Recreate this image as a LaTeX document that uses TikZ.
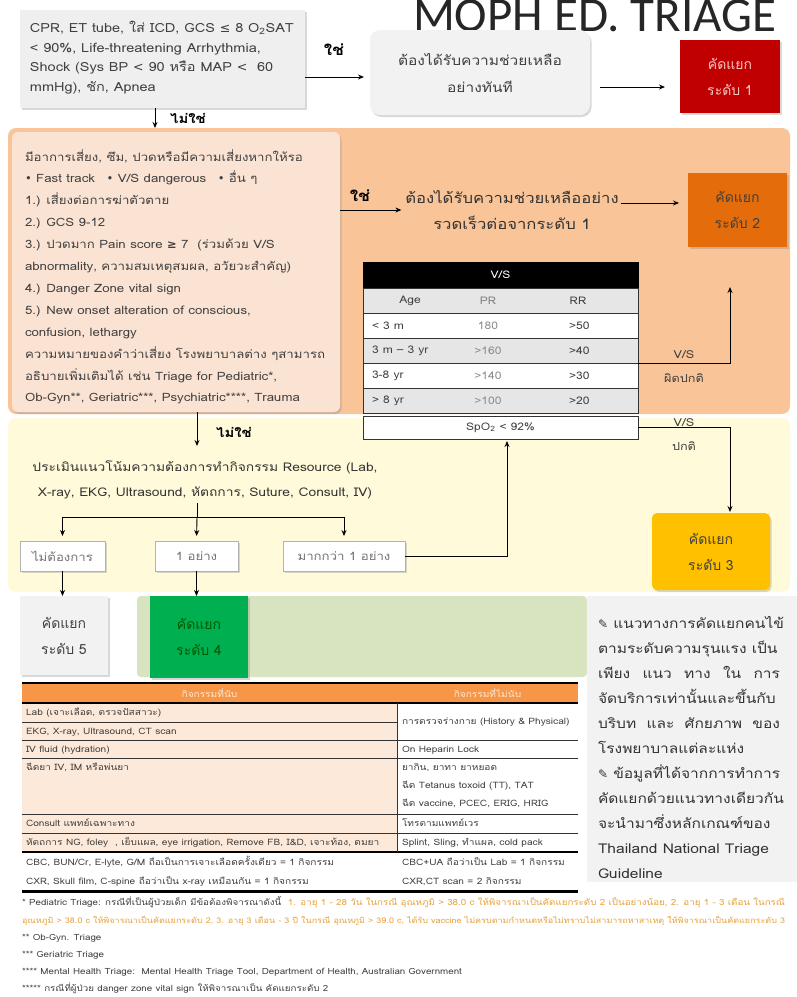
\documentclass[tikz,border=0pt]{standalone}
\usepackage{graphicx}
\usepackage{fontspec}
\setmainfont{Loma}[Script=Thai,FakeStretch=1.15]
\newfontfamily\plainthai{Loma}[Script=Thai]
\newfontfamily\dejavu{DejaVu Sans}
\newfontfamily\titlefont{Carlito}
\usetikzlibrary{arrows.meta,shadows}
\definecolor{boxgray}{HTML}{EFEFEF}
\definecolor{redA}{HTML}{C00000}
\definecolor{pinkA}{HTML}{F6C6C0}
\definecolor{bandB}{HTML}{F8C498}
\definecolor{innerB}{HTML}{FBE3D3}
\definecolor{lvlB}{HTML}{E46C0A}
\definecolor{bandC}{HTML}{FFFAD9}
\definecolor{lvlC}{HTML}{FFC000}
\definecolor{bandD}{HTML}{D8E4BF}
\definecolor{lvlD}{HTML}{00B050}
\definecolor{panelE}{HTML}{F2F2F2}
\definecolor{thead}{HTML}{F79646}
\definecolor{tleft}{HTML}{FDE9D9}
\definecolor{txt}{HTML}{404040}
\definecolor{foot}{HTML}{E6A23C}
\definecolor{vsgray}{HTML}{E6E6E6}
\newcommand\fs[2]{\fontsize{#1}{#2}\selectfont}
\begin{document}
\begin{tikzpicture}[x=1pt,y=-1pt,
  arr/.style={-{Stealth[length=6pt,width=5pt]},line width=0.9pt},
  plain/.style={line width=0.9pt},
  shd/.style={drop shadow={opacity=0.3,shadow xshift=1.5pt,shadow yshift=-2pt}},
  blk/.style={inner sep=0pt,outer sep=0pt},
  lvl/.style={blk,align=center,font=\plainthai\fs{14}{26}},
  ln/.style={blk,anchor=base west},
  tl/.style={ln,font=\fs{8.8}{9},text=txt},
  vst/.style={blk,font=\fs{10.5}{10},text=txt},
  lab/.style={blk,font=\bfseries\fs{15}{15}},
  vsrow/.style={blk,draw=black!80,line width=1pt,minimum width=275pt,minimum height=25pt},
  tline/.style={line width=1pt,black!80}]
\fill[white] (0,0) rectangle (797,997);
\useasboundingbox (0,0) rectangle (797,997);

% title
\node[ln,font=\titlefont\fs{49}{49},text=black!85] (title) at (413,31) {MOPH ED. TRIAGE};

% ---------- bands
\node[blk,fill=bandB,rounded corners=8pt,minimum width=782pt,minimum height=286pt] (band2) at (399,271) {};
\node[blk,fill=bandC,rounded corners=8pt,minimum width=782pt,minimum height=174pt] (band3) at (399,505) {};
\node[blk,fill=bandD,rounded corners=4pt,minimum width=450pt,minimum height=81pt] (band4) at (362,636.5) {};
\node[blk,fill=panelE,minimum width=210pt,minimum height=286pt] (panel) at (692,739) {};

% ---------- level 1 row
\node[blk,fill=boxgray,shd,minimum width=285pt,minimum height=98pt] (b1) at (162.5,59) {};
\node[ln,font=\fs{12.6}{15},text=txt] (a1) at (30,32.5) {CPR, ET tube, ใส่ ICD, GCS {\dejavu ≤} 8 O\textsubscript{2}SAT};
\node[ln,font=\fs{12.6}{15},text=txt] (a2) at (30,52) {< 90\%, Life-threatening Arrhythmia,};
\node[ln,font=\fs{12.6}{15},text=txt] (a3) at (30,71.5) {Shock (Sys BP {\dejavu <} 90 หรือ MAP {\dejavu <}\ \ 60};
\node[ln,font=\fs{12.6}{15},text=txt] (a4) at (30,91) {mmHg), ชัก, Apnea};
\node[blk,fill=boxgray!80,shd,rounded corners=10pt,minimum width=220pt,minimum height=85pt,align=center,font=\fs{13.5}{27},text=txt] (b2) at (480,72.5) {ต้องได้รับความช่วยเหลือ\\อย่างทันที};
\node[lvl,fill=redA,shd,minimum width=100pt,minimum height=73pt,text=pinkA] (L1) at (730,76.5) {คัดแยก\\ระดับ 1};
\node[lab] (yes1) at (334,50) {ใช่};
\draw[arr,shorten >=6pt] (b1.east |- 0,77) -- (b2.west |- 0,77);
\draw[arr,shorten <=10pt,shorten >=15pt] (b2.east |- 0,87) -- (L1.west |- 0,87);

% ---------- level 2
\node[blk,fill=innerB,shd,rounded corners=6pt,minimum width=328pt,minimum height=280pt] (inner) at (176,272) {};
\draw[arr] (b1.south -| 155,0) -- (band2.north -| 155,0);
\node[blk,font=\bfseries\fs{13}{13}] (no1) at (188,118) {ไม่ใช่};
\foreach \t [count=\i] in {{มีอาการเสี่ยง, ซึม, ปวดหรือมีความเสี่ยงหากให้รอ},{{\dejavu•} Fast track\quad{\dejavu•} V/S dangerous\quad{\dejavu•} อื่น ๆ},{1.) เสี่ยงต่อการฆ่าตัวตาย},{2.) GCS 9-12},{3.) ปวดมาก Pain score {\dejavu\bfseries ≥} 7\ \ (ร่วมด้วย V/S},{abnormality, ความสมเหตุสมผล, อวัยวะสำคัญ)},{4.) Danger Zone vital sign},{5.) New onset alteration of conscious,},{confusion, lethargy},{ความหมายของคำว่าเสี่ยง โรงพยาบาลต่าง ๆสามารถ},{อธิบายเพิ่มเติมได้ เช่น Triage for Pediatric*,},{Ob-Gyn**, Geriatric***, Psychiatric****, Trauma}}
  \node[ln,font=\fs{11.5}{14},text=txt] (o\i) at (25,{161+21.9*(\i-1)}) {\t};
\node[lab] (yes2) at (360,196) {ใช่};
\node[blk,align=center,font=\fs{14.5}{26},text=black!80] (t2) at (512,210) {ต้องได้รับความช่วยเหลืออย่าง\\รวดเร็วต่อจากระดับ 1};
\draw[arr,shorten >=4pt] (inner.east |- 0,210) -- (t2.west |- 0,210);
\node[lvl,fill=lvlB,shd,minimum width=99pt,minimum height=74pt,text=black!75] (L2) at (737.5,210) {คัดแยก\\ระดับ 2};
\draw[arr,shorten <=2pt,shorten >=9pt] (t2.east |- 0,203) -- (L2.west |- 0,203);

% V/S table
\node[blk,fill=black,draw=black,minimum width=275pt,minimum height=26pt,text=white,font=\fs{10.5}{10}] (vsh) at (500.5,275) {V/S};
\node[vsrow,fill=vsgray] (vs0) at (500.5,300.5) {};
\node[vsrow,fill=white] (vs1) at (500.5,325.5) {};
\node[vsrow,fill=vsgray] (vs2) at (500.5,350.5) {};
\node[vsrow,fill=white] (vs3) at (500.5,375.5) {};
\node[vsrow,fill=vsgray] (vs4) at (500.5,400.5) {};
\node[vsrow,fill=white,minimum height=23pt,font=\fs{10.5}{10},text=txt] (spo) at (500.5,427.5) {SpO\textsubscript{2} < 92\%};
\node[vst] (h1) at (410,300.5) {Age};
\node[vst,text=black!50] (h2) at (488,300.5) {PR};
\node[vst] (h3) at (578,300.5) {RR};
\foreach \a/\b/\c/\y [count=\i] in {< 3 m/180/>50/325.5,3 m – 3 yr/>160/>40/350.5,3-8 yr/>140/>30/375.5,> 8 yr/>100/>20/400.5}{
  \node[vst,anchor=west] (va\i) at (372,\y) {\a};
  \node[vst,text=black!45] (vb\i) at (488,\y) {\b};
  \node[vst,anchor=west] (vc\i) at (569,\y) {\c};
}
\coordinate (up2) at (730,287);
\draw[arr] (vs2.south east) -| (up2);
\node[blk,font=\fs{11}{12},text=txt] (ab1) at (684,355) {V/S};
\node[blk,font=\fs{11}{12},text=txt] (ab2) at (684,378) {ผิดปกติ};

% ---------- level 3
\node[blk,font=\fs{11}{12},text=txt] (nm1) at (684,423) {V/S};
\node[blk,font=\fs{11}{12},text=txt] (nm2) at (684,446) {ปกติ};
\node[lvl,fill=lvlC,shd,rounded corners=5pt,minimum width=118pt,minimum height=77pt,text=black!75] (L3) at (711,551.5) {คัดแยก\\ระดับ 3};
\coordinate (dn3) at (730,512);
\draw[arr] (spo.east) -| (dn3);

\coordinate (split) at (197,517);
\coordinate (noend) at (197,446);
\draw[arr] (inner.south -| split) -- (noend);
\node[blk,font=\bfseries\fs{13}{13}] (no2) at (234,432) {ไม่ใช่};
\node[blk,align=center,font=\fs{12}{25},text=black!80] (res) at (205,480) {ประเมินแนวโน้มความต้องการทำกิจกรรม Resource (Lab,\\X-ray, EKG, Ultrasound, หัตถการ, Suture, Consult, IV)};
\node[blk,fill=white,draw=black!30,shd,minimum width=85pt,minimum height=30pt,font=\fs{11.5}{11},text=black!55] (bx0) at (62.5,556) {ไม่ต้องการ};
\node[blk,fill=white,draw=black!30,shd,minimum width=83pt,minimum height=30pt,font=\fs{11.5}{11},text=black!55] (bx1) at (196.5,556) {1 อย่าง};
\node[blk,fill=white,draw=black!30,shd,minimum width=122pt,minimum height=30pt,font=\fs{11.5}{11},text=black!55] (bx2) at (344,556) {มากกว่า 1 อย่าง};
\draw[plain] (split |- 0,503) -- (split);
\draw[arr,shorten >=5pt] (split) -| (bx0.north);
\draw[arr,shorten >=5pt] (split) -- (bx1.north);
\draw[arr,shorten >=5pt] (split) -| (bx2.north);
\coordinate (spotip) at (507,441);
\draw[arr] (bx2.east) -| (spotip);

% ---------- level 4 / 5
\node[lvl,fill=panelE,shd,minimum width=88pt,minimum height=79pt,text=txt] (L5) at (64,635.5) {คัดแยก\\ระดับ 5};
\node[lvl,fill=lvlD,shd,minimum width=98pt,minimum height=82pt,text=black!65!green] (L4) at (199,637) {คัดแยก\\ระดับ 4};
\draw[arr] (bx0.south) -- (bx0.south |- L5.north);
\draw[arr] (bx1.south) -- (bx1.south |- L4.north);

% right panel text
\node[ln,font=\fs{13.5}{14},text=black!80] (p1) at (598,628) {{\dejavu\fs{12}{12}✎} แนวทางการคัดแยกคนไข้};
\node[ln,font=\fs{13.5}{14},text=black!80] (p2) at (598,653) {ตามระดับความรุนแรง เป็น};
\node[ln,font=\fs{13.5}{14},text=black!80] (p3) at (598,678) {\makebox[182pt][s]{เพียง\hfil แนว\hfil ทาง\hfil ใน\hfil การ}};
\node[ln,font=\fs{13.5}{14},text=black!80] (p4) at (598,703) {จัดบริการเท่านั้นและขึ้นกับ};
\node[ln,font=\fs{13.5}{14},text=black!80] (p5) at (598,728) {\makebox[182pt][s]{บริบท\hfil และ\hfil ศักยภาพ\hfil ของ}};
\node[ln,font=\fs{13.5}{14},text=black!80] (p6) at (598,753) {โรงพยาบาลแต่ละแห่ง};
\node[ln,font=\fs{13.5}{14},text=black!80] (p7) at (598,778) {{\dejavu\fs{12}{12}✎} ข้อมูลที่ได้จากการทำการ};
\node[ln,font=\fs{13.5}{14},text=black!80] (p8) at (598,803) {คัดแยกด้วยแนวทางเดียวกัน};
\node[ln,font=\fs{13.5}{14},text=black!80] (p9) at (598,828) {จะนำมาซึ่งหลักเกณฑ์ของ};
\node[ln,font=\fs{13.5}{14},text=black!80] (p10) at (598,853) {Thailand National Triage};
\node[ln,font=\fs{13.5}{14},text=black!80] (p11) at (598,878) {Guideline};

% ---------- resource table
\fill[tleft] (22,703) rectangle (397,852);
\fill[thead] (22,684) rectangle (578,702);
\draw[line width=2.5pt] (22,683) -- (578,683);
\draw[line width=2.5pt] (22,703) -- (578,703);
\draw[tline] (22,722) -- (397,722);
\foreach \y in {740,758,814,833} \draw[tline] (22,\y) -- (578,\y);
\draw[line width=1.6pt] (22,852) -- (578,852);
\draw[tline] (397,703) -- (397,852);
\draw[line width=3pt] (22,891) -- (578,891);
\node[blk,font=\fs{8.8}{9},text=tleft] (th1) at (209.5,693) {กิจกรรมที่นับ};
\node[blk,font=\fs{8.8}{9},text=tleft] (th2) at (487.5,693) {กิจกรรมที่ไม่นับ};
\node[tl] (r1) at (26,715) {Lab (เจาะเลือด, ตรวจปัสสาวะ)};
\node[tl] (r2) at (26,734) {EKG, X-ray, Ultrasound, CT scan};
\node[tl] (r3) at (26,752) {IV fluid (hydration)};
\node[tl] (r4) at (26,770) {ฉีดยา IV, IM หรือพ่นยา};
\node[tl] (r5) at (26,826) {Consult แพทย์เฉพาะทาง};
\node[tl] (r6) at (26,845) {หัตถการ NG, foley\ \ , เย็บแผล, eye irrigation, Remove FB, I\&D, เจาะท้อง, ดมยา};
\node[tl] (r7) at (26,865) {CBC, BUN/Cr, E-lyte, G/M ถือเป็นการเจาะเลือดครั้งเดียว = 1 กิจกรรม};
\node[tl] (r8) at (26,884) {CXR, Skull film, C-spine ถือว่าเป็น x-ray เหมือนกัน = 1 กิจกรรม};
\node[tl] (s1) at (402,724) {การตรวจร่างกาย (History \& Physical)};
\node[tl] (s2) at (402,752) {On Heparin Lock};
\node[tl] (s3) at (402,770) {ยากิน, ยาทา ยาหยอด};
\node[tl] (s4) at (402,788) {ฉีด Tetanus toxoid (TT), TAT};
\node[tl] (s5) at (402,806) {ฉีด vaccine, PCEC, ERIG, HRIG};
\node[tl] (s6) at (402,826) {โทรตามแพทย์เวร};
\node[tl] (s7) at (402,845) {Splint, Sling, ทำแผล, cold pack};
\node[tl] (s8) at (402,865) {CBC+UA ถือว่าเป็น Lab = 1 กิจกรรม};
\node[tl] (s9) at (402,884) {CXR,CT scan = 2 กิจกรรม};

% ---------- footnotes
\node[ln,font=\fs{8}{8},text=txt] (f1) at (22,905) {\resizebox{763pt}{!}{* Pediatric Triage: กรณีที่เป็นผู้ป่วยเด็ก มีข้อต้องพิจารณาดังนี้\ \ \textcolor{foot}{1. อายุ 1 - 28 วัน ในกรณี อุณหภูมิ > 38.0 c ให้พิจารณาเป็นคัดแยกระดับ 2 เป็นอย่างน้อย, 2. อายุ 1 - 3 เดือน ในกรณี}}};
\node[ln,font=\fs{8}{8},text=foot] (f2) at (22,923) {\resizebox{763pt}{!}{อุณหภูมิ > 38.0 c ให้พิจารณาเป็นคัดแยกระดับ 2, 3. อายุ 3 เดือน - 3 ปี ในกรณี อุณหภูมิ > 39.0 c, ได้รับ vaccine ไม่ครบตามกำหนดหรือไม่ทราบไม่สามารถหาสาเหตุ ให้พิจารณาเป็นคัดแยกระดับ 3}};
\node[ln,font=\fs{8.5}{8},text=txt] (f3) at (22,940) {** Ob-Gyn. Triage};
\node[ln,font=\fs{8.5}{8},text=txt] (f4) at (22,957) {*** Geriatric Triage};
\node[ln,font=\fs{8.5}{8},text=txt] (f5) at (22,974) {**** Mental Health Triage:\ \ Mental Health Triage Tool, Department of Health, Australian Government};
\node[ln,font=\fs{8.5}{8},text=txt] (f6) at (22,991) {***** กรณีที่ผู้ป่วย danger zone vital sign ให้พิจารณาเป็น คัดแยกระดับ 2};
\end{tikzpicture}
\end{document}
